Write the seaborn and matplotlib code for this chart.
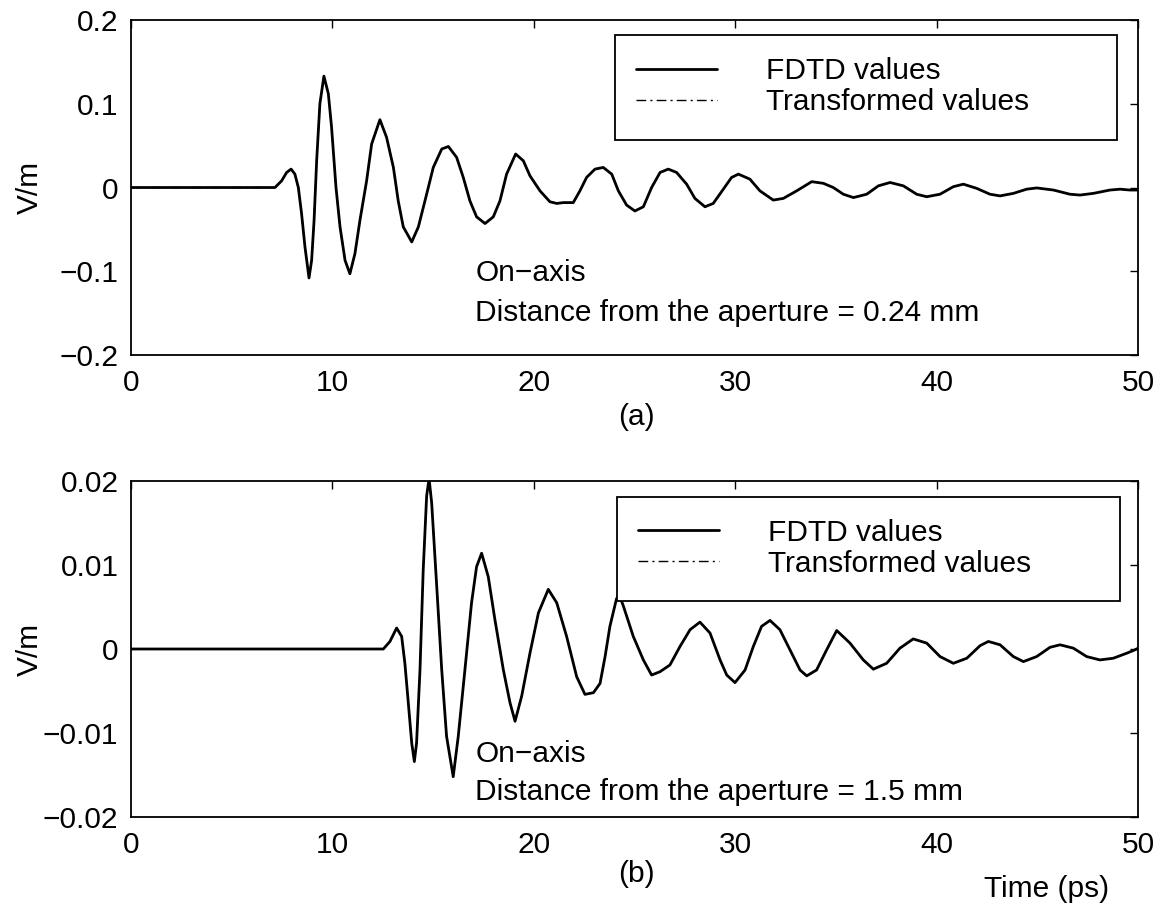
import matplotlib
matplotlib.use("Agg")
import matplotlib.pyplot as plt
from matplotlib.patches import Rectangle
from matplotlib.lines import Line2D
import seaborn as sns
import pandas as pd

# ---------------- data ----------------
time_a = [0, 7.15, 7.48, 7.73, 7.95, 8.14, 8.31, 8.47, 8.64, 8.84, 8.97, 9.09, 9.22, 9.38,
          9.58, 9.80, 9.96, 10.18, 10.38, 10.63, 10.87, 11.12, 11.37, 11.70, 11.95, 12.36,
          12.69, 13.03, 13.27, 13.52, 13.94, 14.27, 14.68, 15.01, 15.43, 15.76, 16.17, 16.50,
          16.83, 17.16, 17.58, 17.99, 18.32, 18.65, 19.10, 19.48, 19.81, 20.31, 20.80, 21.14,
          21.47, 21.96, 22.29, 22.62, 23.04, 23.45, 23.87, 24.20, 24.61, 25.02, 25.44, 25.85,
          26.27, 26.68, 27.09, 27.59, 28.00, 28.50, 28.91, 29.41, 29.82, 30.16, 30.73, 31.23,
          31.89, 32.39, 33.05, 33.80, 34.38, 34.87, 35.37, 35.87, 36.53, 37.11, 37.69, 38.35,
          39.01, 39.51, 40.17, 40.83, 41.33, 41.99, 42.65, 43.15, 43.81, 44.47, 44.97, 45.80,
          46.62, 47.12, 47.78, 48.61, 49.11, 49.60, 50.0]
fdtd_a = [0, 0, 0.008, 0.018, 0.022, 0.016, 0.0, -0.031, -0.071, -0.108, -0.087, -0.040, 0.032,
          0.100, 0.133, 0.112, 0.072, 0.0, -0.047, -0.087, -0.103, -0.079, -0.039, 0.008, 0.052,
          0.081, 0.060, 0.024, -0.016, -0.047, -0.065, -0.047, -0.008, 0.024, 0.046, 0.049,
          0.036, 0.012, -0.016, -0.035, -0.043, -0.035, -0.016, 0.016, 0.040, 0.032, 0.014,
          -0.004, -0.017, -0.019, -0.018, -0.018, -0.004, 0.012, 0.022, 0.024, 0.016, -0.004,
          -0.021, -0.028, -0.023, 0.000, 0.018, 0.022, 0.018, 0.004, -0.013, -0.023, -0.019,
          -0.002, 0.012, 0.016, 0.010, -0.004, -0.015, -0.013, -0.004, 0.007, 0.005, 0.000,
          -0.008, -0.012, -0.008, 0.002, 0.006, 0.002, -0.008, -0.011, -0.008, 0.001, 0.004,
          -0.001, -0.008, -0.010, -0.007, -0.002, -0.0005, -0.003, -0.008, -0.009, -0.007,
          -0.003, -0.002, -0.003, -0.003]
transformed_a = list(fdtd_a)

time_b = [0, 12.53, 12.86, 13.19, 13.44, 13.60, 13.77, 13.94, 14.07, 14.18, 14.35, 14.51, 14.68,
          14.80, 14.93, 15.18, 15.43, 15.67, 16.00, 16.25, 16.58, 16.91, 17.16, 17.41, 17.74,
          18.07, 18.49, 18.82, 19.07, 19.40, 19.81, 20.23, 20.72, 21.14, 21.63, 22.13, 22.54,
          22.96, 23.29, 23.54, 23.78, 24.11, 24.25, 24.45, 24.94, 25.44, 25.85, 26.27, 26.76,
          27.26, 27.76, 28.25, 28.75, 29.25, 29.58, 29.99, 30.49, 30.90, 31.31, 31.73, 32.22,
          32.72, 33.22, 33.55, 34.04, 34.54, 35.04, 35.70, 36.36, 36.86, 37.52, 38.18, 38.84,
          39.51, 40.17, 40.83, 41.50, 42.16, 42.57, 43.15, 43.81, 44.31, 44.97, 45.63, 46.13,
          46.79, 47.45, 48.11, 48.77, 49.44, 49.85, 50.0]
fdtd_b = [0, 0, 0.0009, 0.0025, 0.0015, -0.0017, -0.0064, -0.0112, -0.0134, -0.0112, -0.0025,
          0.0094, 0.0182, 0.0203, 0.0174, 0.0075, -0.0025, -0.0104, -0.0152, -0.0104, -0.0025,
          0.0055, 0.0098, 0.0114, 0.0086, 0.0035, -0.0025, -0.0064, -0.0086, -0.0056, -0.0005,
          0.0043, 0.0071, 0.0055, 0.0015, -0.0033, -0.0054, -0.0052, -0.0041, -0.0009, 0.0027,
          0.0060, 0.0064, 0.0051, 0.0015, -0.0013, -0.0031, -0.0027, -0.0019, 0.0003, 0.0023,
          0.0032, 0.0019, -0.0013, -0.0031, -0.0040, -0.0025, 0.0003, 0.0027, 0.0034, 0.0023,
          -0.0001, -0.0025, -0.0032, -0.0025, -0.0001, 0.0022, 0.0007, -0.0013, -0.0024,
          -0.0017, 0.0001, 0.0012, 0.0007, -0.0009, -0.0017, -0.0011, 0.0004, 0.0009, 0.0005,
          -0.0009, -0.0015, -0.0009, 0.0002, 0.0005, 0.0001, -0.0009, -0.0013, -0.0011, -0.0005,
          -0.0001, 0.0001]
transformed_b = list(fdtd_b)

series_labels = ["FDTD values", "Transformed values"]
x_ticks = [0, 10, 20, 30, 40, 50]
y_ticks_a = [-0.2, -0.1, 0, 0.1, 0.2]
y_ticklabels_a = ["\u22120.2", "\u22120.1", "0", "0.1", "0.2"]
y_ticks_b = [-0.02, -0.01, 0, 0.01, 0.02]
y_ticklabels_b = ["\u22120.02", "\u22120.01", "0", "0.01", "0.02"]
note_line1 = "On\u2212axis"
note_line2_a = "Distance from the aperture = 0.24 mm"
note_line2_b = "Distance from the aperture = 1.5 mm"

# ---------------- style ----------------
sns.set_theme(style="white")
FS = 21.5
plt.rcParams.update({
    "font.family": ["Liberation Sans", "DejaVu Sans"],
    "font.size": FS,
    "axes.edgecolor": "black",
    "axes.linewidth": 1.3,
    "text.color": "black",
    "axes.labelcolor": "black",
    "xtick.color": "black",
    "ytick.color": "black",
    "axes.unicode_minus": True,
})

fig = plt.figure(figsize=(11.61, 9.07), dpi=100)
ax1 = fig.add_axes([0.1128, 0.6086, 0.8674, 0.3693])
ax2 = fig.add_axes([0.1128, 0.0992, 0.8674, 0.3705])

DASHDOT = (0, (7, 3, 1.5, 3))


def draw(ax, t, fdtd, trans, yticks, ylabels, ylim, note2, note_x, note_y1, note_y2, box):
    df = pd.DataFrame({"t": t, "fdtd": fdtd, "trans": trans})
    sns.lineplot(data=df, x="t", y="trans", ax=ax, color="black", lw=1.0,
                 linestyle=DASHDOT, sort=False, estimator=None, zorder=2)
    sns.lineplot(data=df, x="t", y="fdtd", ax=ax, color="black", lw=2.0,
                 sort=False, estimator=None, zorder=2.1,
                 solid_joinstyle="round", solid_capstyle="round")
    ax.set_xlim(0, 50)
    ax.set_ylim(*ylim)
    ax.set_xticks(x_ticks)
    ax.set_xticklabels([str(v) for v in x_ticks])
    ax.set_yticks(yticks)
    ax.set_yticklabels(ylabels)
    ax.tick_params(axis="both", direction="in", length=6, width=1.0,
                   top=True, right=True, labelsize=FS)
    ax.tick_params(axis="x", pad=10)
    ax.tick_params(axis="y", pad=9)
    for s in ax.spines.values():
        s.set_visible(True)
        s.set_color("black")
        s.set_linewidth(1.3)
    ax.set_xlabel("")
    ax.set_ylabel("V/m", fontsize=FS)
    ax.yaxis.set_label_coords(-0.086, 0.5)
    ax.grid(False)
    # legend frame (opaque)
    x0, y0, x1, y1 = box
    ax.add_patch(Rectangle((x0, y0), x1 - x0, y1 - y0, transform=ax.transAxes,
                           facecolor="white", edgecolor="black", lw=1.3, zorder=3))
    handles = [Line2D([], [], color="black", lw=2.0),
               Line2D([], [], color="black", lw=1.0, linestyle=DASHDOT)]
    leg = ax.legend(handles, series_labels, loc="center left",
                    bbox_to_anchor=(x0 + 0.021, (y0 + y1) / 2 + 0.003),
                    frameon=False, fontsize=FS, handlelength=2.7, handletextpad=1.65,
                    labelspacing=0.1, borderpad=0, borderaxespad=0)
    leg.set_zorder(4)
    ax.text(note_x, note_y1, note_line1, ha="left", va="center", fontsize=FS, zorder=5)
    ax.text(note_x, note_y2, note2, ha="left", va="center", fontsize=FS, zorder=5)


draw(ax1, time_a, fdtd_a, transformed_a, y_ticks_a, y_ticklabels_a, (-0.2, 0.2),
     note_line2_a, 17.1, -0.102, -0.150, (0.4806, 0.642, 0.979, 0.955))
draw(ax2, time_b, fdtd_b, transformed_b, y_ticks_b, y_ticklabels_b, (-0.02, 0.02),
     note_line2_b, 17.1, -0.0125, -0.0170, (0.4826, 0.643, 0.982, 0.952))

fig.text(636 / 1161, 1 - 417 / 907, "(a)", ha="center", va="center", fontsize=FS)
fig.text(636 / 1161, 1 - 874 / 907, "(b)", ha="center", va="center", fontsize=FS)
fig.text(1047 / 1161, 1 - 889 / 907, "Time (ps)", ha="center", va="center", fontsize=FS)

fig.savefig("out.png", dpi=100)
